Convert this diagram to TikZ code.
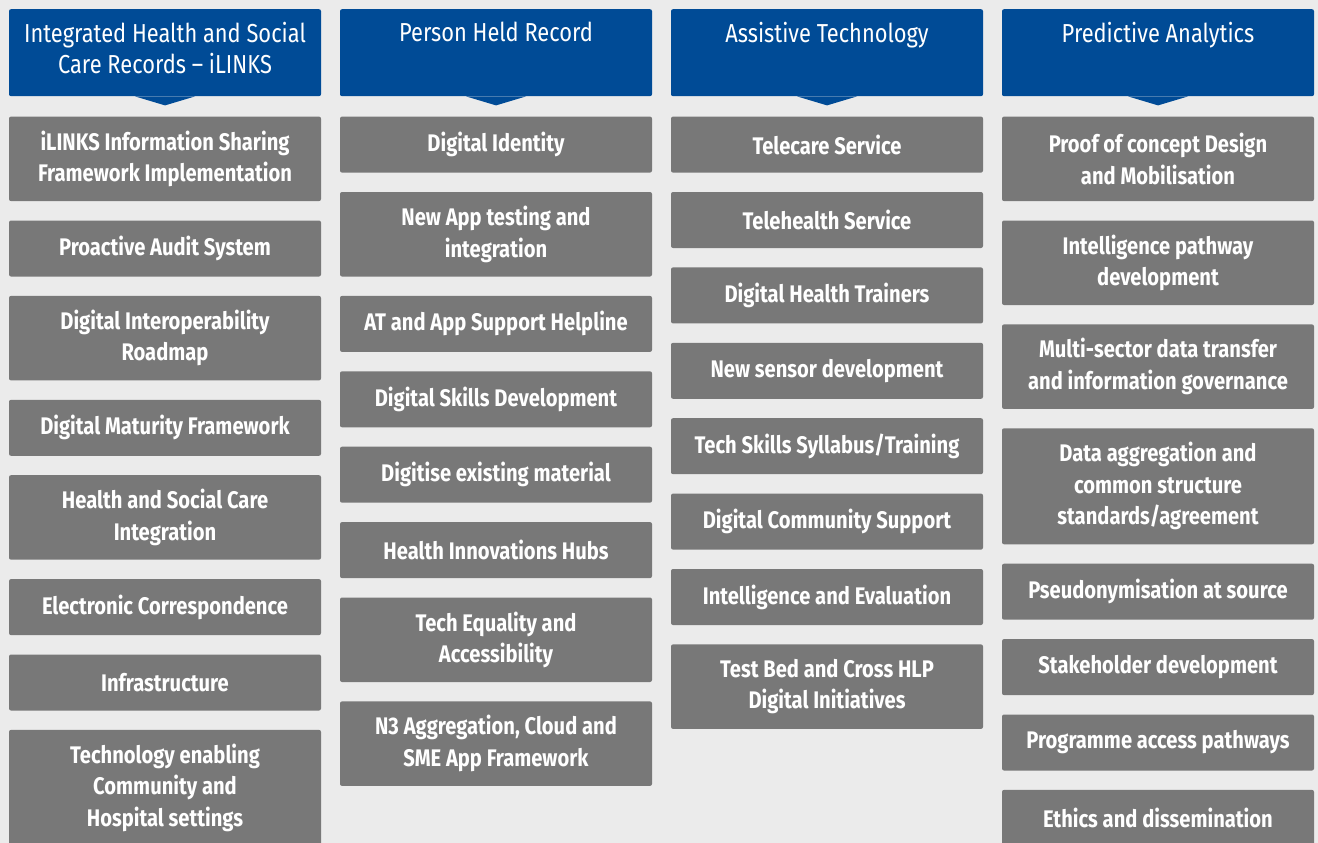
\documentclass[tikz,border=0pt]{standalone}
\usepackage{fontspec}
\setmainfont{Fira Sans}[FakeStretch=0.84]
\usetikzlibrary{positioning}
\definecolor{headblue}{RGB}{0,75,150}
\definecolor{boxgrey}{RGB}{120,120,120}
\definecolor{paper}{RGB}{235,235,235}
\tikzstyle{head}=[fill=headblue,rounded corners=2pt,minimum width=312pt,
  minimum height=87pt,inner sep=0pt,anchor=north]
\tikzstyle{headtext}=[text=white,align=center,anchor=north,inner sep=0pt,
  yshift=-13pt,font=\fontsize{26}{31}\selectfont]
\tikzstyle{item}=[fill=boxgrey,rounded corners=2pt,minimum width=312pt,
  minimum height=56pt,inner sep=0pt,text=white,align=center,
  font=\bfseries\fontsize{24}{31.5}\selectfont]
\tikzstyle{item2}=[item,minimum height=84.5pt]
\tikzstyle{item3}=[item,minimum height=116pt]

\begin{document}
\begin{tikzpicture}[x=1pt, y=1pt, node distance=19pt]
  \useasboundingbox (0,0) rectangle (1318,-843);
  \fill[paper] (0,0) rectangle (1318,-843);
  \clip (0,0) rectangle (1318,-843);

  % column headers
  \node[head, label={[headtext]90:{Integrated Health and Social\\Care Records -- iLINKS}}] (ha) at (165,-9) {};
  \node[head, label={[headtext]90:Person Held Record}] (hb) at (496,-9) {};
  \node[head, label={[headtext]90:Assistive Technology}] (hc) at (827,-9) {};
  \node[head, label={[headtext]90:Predictive Analytics}] (hd) at (1158,-9) {};
  \foreach \h in {ha,hb,hc,hd}
    \fill[headblue] ([xshift=-30pt]\h.south) -- ([xshift=30pt]\h.south)
      -- ([yshift=-9pt]\h.south) -- cycle;

  % iLINKS
  \node[item2, below=20pt of ha] (a1) {iLINKS Information Sharing\\Framework Implementation};
  \node[item, below=of a1] (a2) {Proactive Audit System};
  \node[item2, below=of a2] (a3) {Digital Interoperability\\Roadmap};
  \node[item, below=of a3] (a4) {Digital Maturity Framework};
  \node[item2, below=of a4] (a5) {Health and Social Care\\Integration};
  \node[item, below=of a5] (a6) {Electronic Correspondence};
  \node[item, below=of a6] (a7) {Infrastructure};
  \node[item3, below=of a7] (a8) {Technology enabling\\Community and\\Hospital settings};

  % person held record
  \node[item, below=20pt of hb] (b1) {Digital Identity};
  \node[item2, below=of b1] (b2) {New App testing and\\integration};
  \node[item, below=of b2] (b3) {AT and App Support Helpline};
  \node[item, below=of b3] (b4) {Digital Skills Development};
  \node[item, below=of b4] (b5) {Digitise existing material};
  \node[item, below=of b5] (b6) {Health Innovations Hubs};
  \node[item2, below=of b6] (b7) {Tech Equality and\\Accessibility};
  \node[item2, below=of b7] (b8) {N3 Aggregation, Cloud and\\SME App Framework};

  % assistive technology
  \node[item, below=20pt of hc] (c1) {Telecare Service};
  \node[item, below=of c1] (c2) {Telehealth Service};
  \node[item, below=of c2] (c3) {Digital Health Trainers};
  \node[item, below=of c3] (c4) {New sensor development};
  \node[item, below=of c4] (c5) {Tech Skills Syllabus/Training};
  \node[item, below=of c5] (c6) {Digital Community Support};
  \node[item, below=of c6] (c7) {Intelligence and Evaluation};
  \node[item2, below=of c7] (c8) {Test Bed and Cross HLP\\Digital Initiatives};

  % predictive analytics
  \node[item2, below=20pt of hd] (d1) {Proof of concept Design\\and Mobilisation};
  \node[item2, below=of d1] (d2) {Intelligence pathway\\development};
  \node[item2, below=of d2] (d3) {Multi-sector data transfer\\and information governance};
  \node[item3, below=of d3] (d4) {Data aggregation and\\common structure\\standards/agreement};
  \node[item, below=of d4] (d5) {Pseudonymisation at source};
  \node[item, below=of d5] (d6) {Stakeholder development};
  \node[item, below=of d6] (d7) {Programme access pathways};
  \node[item, below=of d7] (d8) {Ethics and dissemination};
\end{tikzpicture}
\end{document}
